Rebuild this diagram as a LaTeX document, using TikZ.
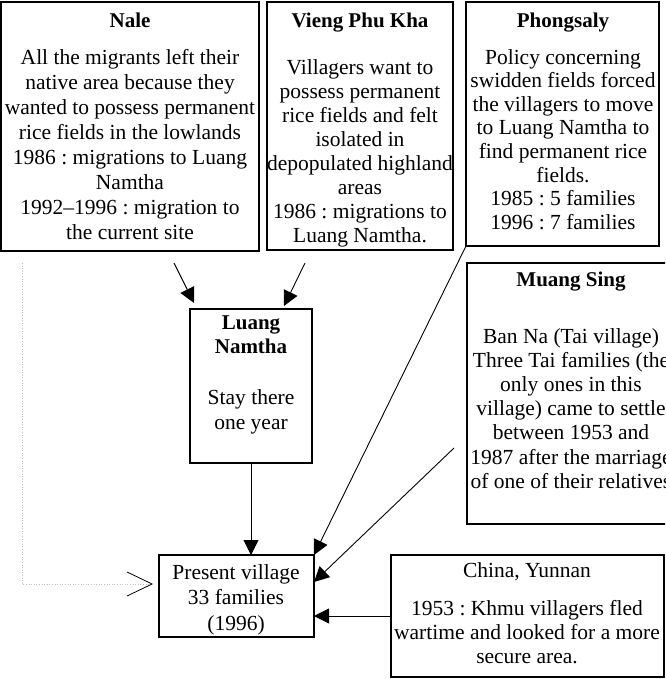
\documentclass[tikz,border=0pt]{standalone}
\usepackage{fontspec}
\setmainfont{Liberation Serif}
\usetikzlibrary{arrows.meta,calc}
\frenchspacing
\begin{document}
\begin{tikzpicture}[x=1pt,y=-1pt,
  frame/.style={draw,line width=1.2pt,anchor=north west,inner sep=0pt,outer sep=0pt},
  head/.style={anchor=north,inner sep=0pt,align=center,font=\fontsize{21}{24}\selectfont\bfseries},
  body/.style={anchor=north,inner sep=0pt,align=center,font=\fontsize{21.5}{#1}\selectfont},
  body/.default=24.5,
  conn/.style={line width=0.9pt,-{Triangle[length=15pt,width=15pt]}}]
\fill[white] (0,0) rectangle (665,679);
\useasboundingbox (0,0) rectangle (665,679);
\clip (0,0) rectangle (665,679);

% boxes
\node[frame,minimum width=258pt,minimum height=249pt] (nale) at (1,2) {};
\node[frame,minimum width=186pt,minimum height=248pt] (vieng) at (267,2) {};
\node[frame,minimum width=193pt,minimum height=244pt] (phong) at (466,2) {};
\node[frame,minimum width=208pt,minimum height=261pt] (muang) at (467,263) {};
\node[frame,minimum width=122pt,minimum height=154pt] (luang) at (190,309) {};
\node[frame,minimum width=155pt,minimum height=82pt] (pv) at (159,555) {};
\node[frame,minimum width=273pt,minimum height=122pt] (china) at (391,555) {};

% texts
\node[head] (naleT) at (130,13) {Nale};
\node[body=25] (naleB) at (130,49) {All the migrants left their\\native area because they\\wanted to possess permanent\\rice fields in the lowlands\\1986 : migrations to Luang\\Namtha\\1992--1996 : migration to\\the current site};

\node[head] (viengT) at (360,13) {Vieng Phu Kha};
\node[body=24] (viengB) at (360,59) {Villagers want to\\possess permanent\\rice fields and felt\\isolated in\\depopulated highland\\areas\\1986 : migrations to\\Luang Namtha.};

\node[head] (phongT) at (563,13) {Phongsaly};
\node[body=23.6] (phongB) at (563,49) {Policy concerning\\swidden fields forced\\the villagers to move\\to Luang Namtha to\\find permanent rice\\fields.\\1985 : 5 families\\1996 : 7 families};

\node[head] (muangT) at (571,272) {Muang Sing};
\node[body=24.2] (muangB) at (571,328) {Ban Na (Tai village)\\Three Tai families (the\\only ones in this\\village) came to settle\\between 1953 and\\1987 after the marriage\\of one of their relatives};

\node[head] (luangT) at (251,316) {Luang\\Namtha};
\node[body=25] (luangB) at (251,389) {Stay there\\one year};

\node[body=25.5] (pvB) at (236,564) {Present village\\33 families\\(1996)};

\node[body] (chinaT) at (527,562) {China, Yunnan};
\node[body=24] (chinaB) at (527,600) {1953 : Khmu villagers fled\\wartime and looked for a more\\secure area.};

% connector ends
\coordinate (s1) at (174,263);
\coordinate (e1) at (194,303);
\coordinate (s2) at (305,263);
\coordinate (e2) at (284,306);
\coordinate (s3) at (454,448);
\coordinate (e3) at (314,582);
\coordinate (ds) at (22,263);
\coordinate (de) at (153,584);

% connectors
\draw[conn] (s1) -- (e1);
\draw[conn] (s2) -- (e2);
\draw[conn] (luang.south) -- (pv.north -| luang.south);
\draw[conn] (phong.south west) -- (pv.north east);
\draw[conn] (s3) -- (e3);
\draw[conn] (china.west) -- (pv.east |- china.west);
\draw[gray!50,line width=0.8pt,dash pattern=on 1pt off 1.6pt,
  -{Straight Barb[length=25pt,width=24pt,color=black,line width=0.8pt]}]
  (ds) |- (de);
\end{tikzpicture}
\end{document}
